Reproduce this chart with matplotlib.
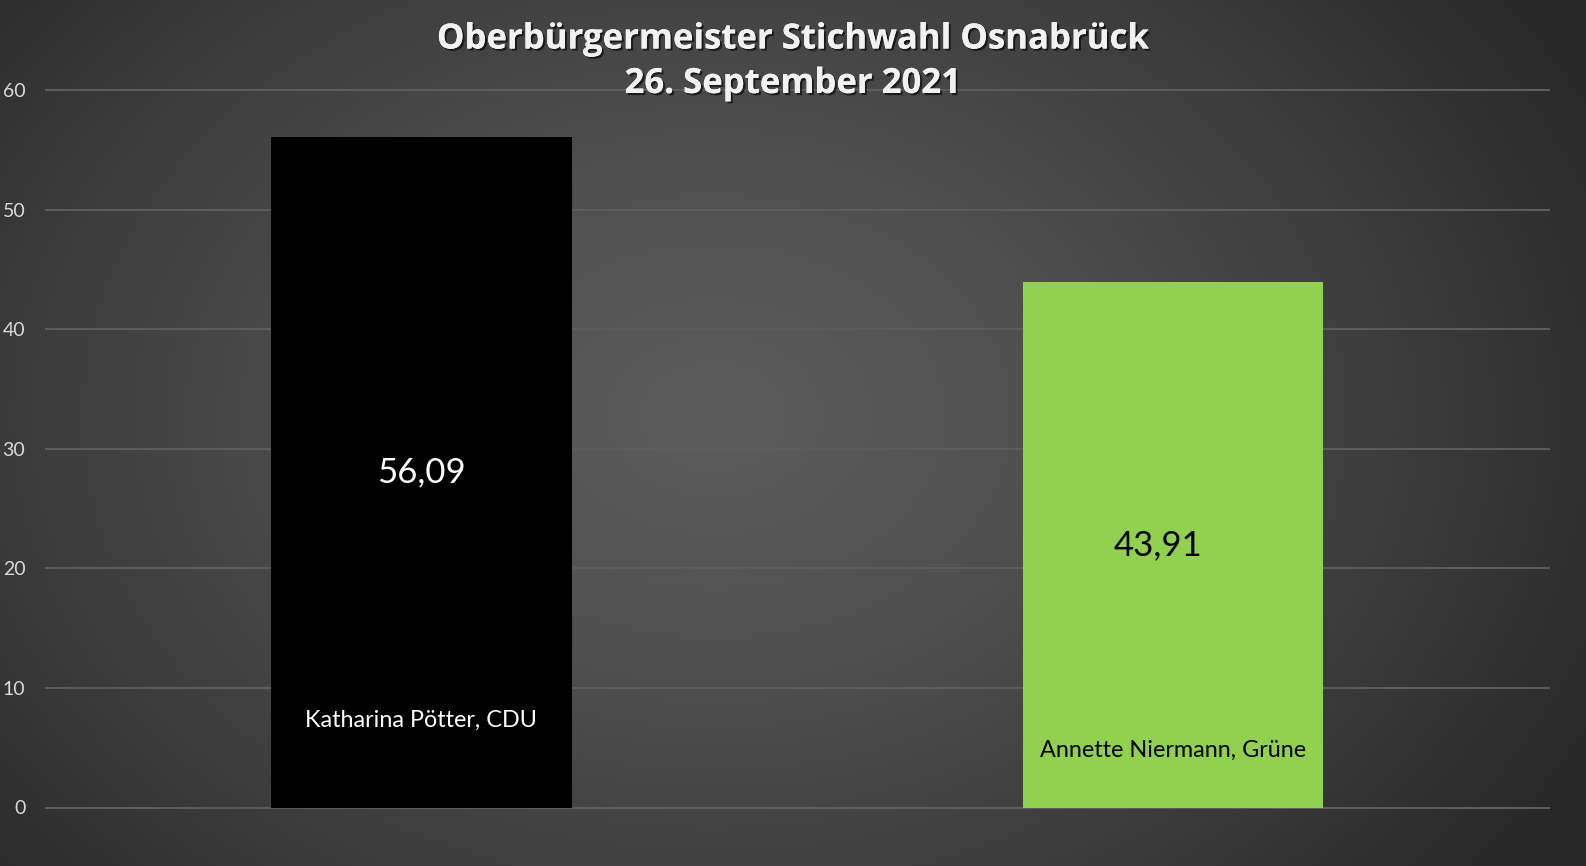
import numpy as np
import matplotlib
matplotlib.use("Agg")
import matplotlib.pyplot as plt
import matplotlib.patheffects as pe

# Runoff result, share of votes in percent
candidates = ["Katharina Pötter, CDU", "Annette Niermann, Grüne"]
values = [56.09, 43.91]
value_labels = ["56,09", "43,91"]
bar_colors = ["#000000", "#92d050"]
text_colors = ["#ffffff", "#000000"]
y_ticks = [0, 10, 20, 30, 40, 50, 60]
title_lines = ["Oberbürgermeister Stichwahl Osnabrück", "26. September 2021"]

W, H, DPI = 1586, 866, 100
fig = plt.figure(figsize=(W / DPI, H / DPI), dpi=DPI)

# Radial grey background
bg = fig.add_axes([0, 0, 1, 1])
bg.set_axis_off()
yy, xx = np.mgrid[0:H, 0:W]
r = np.sqrt(((xx - W * 0.45) / (W * 0.62)) ** 2 + ((yy - H * 0.48) / (H * 0.85)) ** 2)
r = np.clip(r, 0, 1)
shade = 0.36 - 0.20 * r ** 1.3
img = np.dstack([shade, shade, shade])
bg.imshow(img, extent=[0, 1, 0, 1], aspect="auto", origin="upper")
bg.set_xlim(0, 1)
bg.set_ylim(0, 1)

font = "Lato"
left, right = 45.5 / W, 1549 / W
bottom, top = 1 - 807.5 / H, 1 - 90 / H
ax = fig.add_axes([left, bottom, right - left, top - bottom])
ax.patch.set_alpha(0)

x = np.arange(len(candidates))
ax.bar(x, values, width=0.4, color=bar_colors, zorder=3)
ax.set_xlim(-0.5, len(candidates) - 0.5)
ax.set_ylim(0, 60)
ax.set_yticks(y_ticks)
ax.set_xticks([])
for s in ax.spines.values():
    s.set_visible(False)
ax.yaxis.grid(True, color="#5c5c5c", linewidth=1.5, zorder=0)
ax.set_axisbelow(True)
for gl in ax.get_ygridlines():
    gl.set_clip_on(False)
ax.tick_params(axis="y", length=0, pad=14.5, labelsize=14, labelcolor="#d9d9d9")
for lbl in ax.get_yticklabels():
    lbl.set_fontfamily(font)

value_dx = [0.0, -0.02]
name_y = [7.3, 4.8]
for i, (v, vl, name) in enumerate(zip(values, value_labels, candidates)):
    ax.text(x[i] + value_dx[i], v / 2, vl, ha="center", va="center",
            fontsize=25, color=text_colors[i], family=font, zorder=4)
    ax.text(x[i], name_y[i], name, ha="center", va="center",
            fontsize=16.8, color=text_colors[i], family=font, zorder=4)

shadow = [pe.withSimplePatchShadow(offset=(1.5, -1.5), shadow_rgbFace="black", alpha=0.6), pe.Normal()]
for line, ypx in zip(title_lines, [39.5, 84]):
    fig.text(793 / W, 1 - ypx / H, line, ha="center", va="center", fontsize=25,
             fontweight="bold", color="#f2f2f2", family="Open Sans", path_effects=shadow)

fig.savefig("out.png", dpi=DPI)
